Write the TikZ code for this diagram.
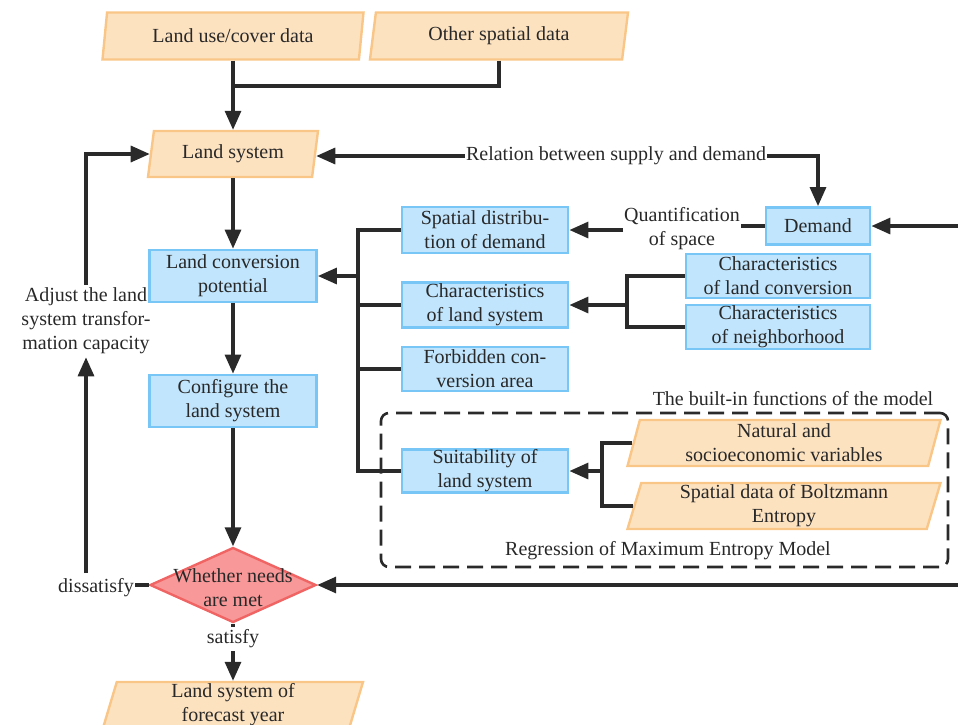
\documentclass[tikz,border=0pt]{standalone}
\usepackage{fontspec}
\setmainfont{Liberation Serif}
\usetikzlibrary{arrows.meta,shapes.geometric,calc}
\definecolor{ofill}{RGB}{253,226,192}
\definecolor{odraw}{RGB}{250,198,135}
\definecolor{bfill}{RGB}{193,229,252}
\definecolor{bdraw}{RGB}{120,198,245}
\definecolor{rfill}{RGB}{248,152,152}
\definecolor{rdraw}{RGB}{240,100,100}
\definecolor{lcol}{RGB}{42,42,42}
\definecolor{tcol}{RGB}{40,40,40}
\begin{document}
\begin{tikzpicture}[x=1pt,y=-1pt,
  every node/.style={font=\fontsize{20}{24}\selectfont, text=tcol, align=center},
  bbox/.style={rectangle, draw=bdraw, fill=bfill, line width=2.8pt, inner sep=0pt},
  pbox/.style={trapezium, trapezium left angle=72, trapezium right angle=108,
    trapezium stretches body, draw=odraw, fill=ofill, line width=2.4pt, inner sep=0pt},
  lab/.style={inner sep=1pt},
  conn/.style={draw=lcol, line width=3.2pt},
  arr/.style={conn, -{Triangle[length=19pt,width=16pt]}}
]
\useasboundingbox (0,0) rectangle (958,724);

% parallelograms
\node[pbox, minimum width=261, minimum height=47] (lud) at (233,36) {Land use/cover data};
\node[pbox, minimum width=258, minimum height=47] (osd) at (499,36) {Other spatial data};
\node[pbox, minimum width=170, minimum height=46] (ls) at (233,154) {Land system};
\node[pbox, minimum width=260, minimum height=46] (fc) at (233,705) {Land system of\\forecast year};
\node[pbox, minimum width=313, minimum height=46] (nat) at (784,443) {Natural and\\socioeconomic variables};
\node[pbox, minimum width=313, minimum height=46] (bol) at (784,506) {Spatial data of Boltzmann\\Entropy};

% blue boxes
\node[bbox, minimum width=167, minimum height=52] (lcp) at (233,276) {Land conversion\\potential};
\node[bbox, minimum width=167, minimum height=52] (cfg) at (233,401) {Configure the\\land system};
\node[bbox, minimum width=166, minimum height=46] (sdd) at (485,230) {Spatial distribu-\\tion of demand};
\node[bbox, minimum width=166, minimum height=45] (cls) at (485,305) {Characteristics\\of land system};
\node[bbox, minimum width=166, minimum height=44] (fca) at (485,369) {Forbidden con-\\version area};
\node[bbox, minimum width=166, minimum height=43] (sls) at (485,471) {Suitability of\\land system};
\node[bbox, minimum width=104, minimum height=37] (dem) at (818,226) {Demand};
\node[bbox, minimum width=184, minimum height=44] (clc) at (778,276) {Characteristics\\of land conversion};
\node[bbox, minimum width=184, minimum height=44] (cnb) at (778,327) {Characteristics\\of neighborhood};

% diamond
\node[diamond, draw=rdraw, fill=rfill, line width=2.4pt, minimum width=166, minimum height=75, inner sep=0pt] (dia) at (233,585) {};
\node[lab] (diat) at (233,588) {Whether needs\\are met};

% dashed frame
\node[draw=lcol, line width=2.6pt, dash pattern=on 16pt off 8pt, rounded corners=8pt,
  minimum width=567, minimum height=154, inner sep=0pt] (frame) at (664.5,490) {};
\node[lab] (ftop) at (793,399) {The built-in functions of the model};
\node[lab] (fbot) at (668,551) {Regression of Maximum Entropy Model};

% labels
\node[lab] (rel) at (616,156) {Relation between supply and demand};
\node[lab] (q) at (682,229) {Quantification\\of space};
\node[lab, inner sep=3pt] (adj) at (86,321) {Adjust the land\\system transfor-\\mation capacity};
\node[lab] (dis) at (96,588) {dissatisfy};
\node[lab, inner sep=3pt] (sat) at (233,639) {satisfy};

% coordinates
\coordinate (j1) at (233,86);
\coordinate (bus) at (358,0);
\coordinate (b2) at (627,0);
\coordinate (b3) at (602,0);
\coordinate (r1) at (958,226);
\coordinate (r2) at (958,585);
\coordinate (d1) at (86,573);

% connectors
\draw[arr] (lud.south) -- (lud.south |- ls.north);
\draw[conn] (osd.south) |- (j1);
\draw[arr] (lcp.north |- ls.south) -- (lcp.north);
\draw[arr] (lcp.south) -- (cfg.north);
\draw[arr] (cfg.south) -- (dia.north);
\draw[conn] (dia.south) -- (sat.north);
\draw[arr] (sat.south) -- (sat.south |- fc.north);
\draw[conn] (dia.west) -- (dis.east |- dia.west);
\draw[arr] (d1) -- (adj.south);
\draw[arr] (adj.north) |- (ls.west);
\draw[arr] (rel.west) -- (rel.west -| ls.east);
\draw[arr] (rel.east) -| (dem.north);
\draw[conn] (dem.west) -- (dem.west -| q.east);
\draw[arr] (q.west |- sdd.east) -- (sdd.east);
\draw[arr] (r1) -- (dem.east);
\draw[conn] (sdd.west) -| (bus |- sls.west) -- (sls.west);
\draw[conn] (cls.west) -- (cls.west -| bus);
\draw[conn] (fca.west) -- (fca.west -| bus);
\draw[arr] (lcp.east -| bus) -- (lcp.east);
\draw[conn] (clc.west) -| (b2 |- cnb.west) -- (cnb.west);
\draw[arr] (b2 |- cls.east) -- (cls.east);
\draw[conn] (nat.west) -| (b3 |- bol.west) -- (bol.west);
\draw[arr] (b3 |- sls.east) -- (sls.east);
\draw[arr] (r2) -- (dia.east);
\end{tikzpicture}
\end{document}
